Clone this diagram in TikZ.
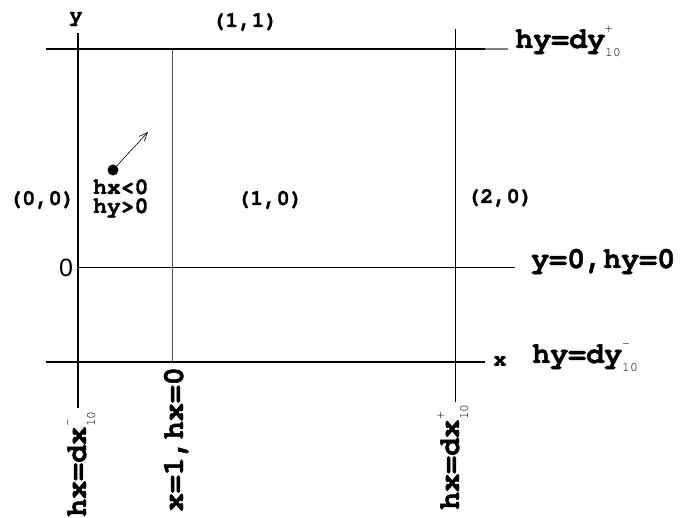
\documentclass[tikz,border=0pt]{standalone}
\usepackage{fontspec}
\setmonofont{texgyrecursor}[Extension=.otf,UprightFont=*-regular,BoldFont=*-bold,BoldFeatures={FakeBold=1.5}]
\newfontfamily\sansnum{Liberation Sans}
\usetikzlibrary{arrows.meta}
\newcommand\supsub[2]{\makebox[0pt][l]{\raisebox{0.5em}{\fontsize{13}{13}\selectfont\mdseries #1}}\raisebox{-0.3em}{\fontsize{13}{13}\selectfont\mdseries #2}}

\begin{document}
\begin{tikzpicture}[x=1pt,y=-1pt,line cap=butt,inner sep=0pt,
  lbig/.style={font=\fontsize{30}{30}\selectfont\ttfamily\bfseries},
  lsmall/.style={font=\fontsize{22}{22}\selectfont\ttfamily\bfseries},
  lmid/.style={font=\fontsize{23}{23}\selectfont\ttfamily\bfseries}]
\useasboundingbox (0,0) rectangle (683,518);
\draw[line width=1.2pt] (78,33) -- (78,408);
\draw[gray!60!black,line width=0.8pt] (172,49) -- (172,362);
\draw[line width=1pt] (455,29) -- (455,402);
\draw[line width=1.2pt] (46,49) -- (485,49);
\draw[gray,line width=1.2pt] (485,49) -- (508,49);
\draw[line width=1pt] (78,268) -- (515,268);
\draw[line width=1.2pt] (46,362) -- (485,362);
\node[lsmall] (ylab) at (76,19) {y};
\node[lsmall] (xlab) at (500,361) {x};
\node[lsmall] (c11) at (245,22) {(1,1)};
\node[lsmall] (c00) at (42,200) {(0,0)};
\node[lsmall] (c10) at (270,200) {(1,0)};
\node[lsmall] (c20) at (500,198) {(2,0)};
\node[font=\fontsize{25}{25}\selectfont\sansnum] (zero) at (66,268) {0};
\node[lbig,anchor=base west] (hytop) at (515,48) {hy=dy\supsub{+}{10}};
\node[lbig,anchor=base west] (yzero) at (531,268) {y=0,hy=0};
\node[lbig,anchor=base west] (hybot) at (532,363) {hy=dy\supsub{-}{10}};
\node[lbig,rotate=90,anchor=base east] (hxleft) at (86,411) {hx=dx\supsub{-}{10}};
\node[lbig,rotate=90,anchor=base east] (xone) at (183,367) {x=1,hx=0};
\node[lbig,rotate=90,anchor=base east] (hxright) at (459,404) {hx=dx\supsub{+}{10}};
\fill (113,170) circle (5.5pt) coordinate (pt);
\coordinate (tip) at (148,132);
\draw[-{Straight Barb[length=3mm,width=2.5mm]},line width=0.6pt] (pt) -- (tip);
\node[lmid,anchor=base west] (hxneg) at (93,194) {hx<0};
\node[lmid,anchor=base west] (hypos) at (93,213) {hy>0};
\end{tikzpicture}
\end{document}
